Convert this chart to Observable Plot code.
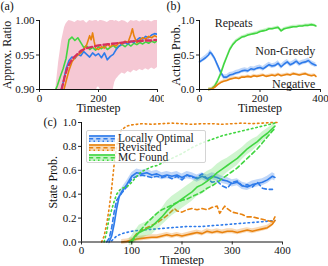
<!DOCTYPE html>
<html><head><meta charset="utf-8">
<script src="https://cdn.jsdelivr.net/npm/d3@7"></script>
<script src="https://cdn.jsdelivr.net/npm/@observablehq/plot@0.6"></script>
<style>
body{margin:0;background:#fff;}
#wrap{position:relative;width:328px;height:266px;overflow:hidden;font-family:"Liberation Serif",serif;background:#fff;}
.panel{position:absolute;}
#legend{position:absolute;left:86px;top:130px;width:118px;height:31px;background:rgba(255,255,255,0.8);border:1px solid #d4d4d4;border-radius:2px;font-size:11.5px;color:#222;}
.row{position:absolute;left:0;height:9px;line-height:9px;white-space:nowrap;}
.row svg{position:absolute;left:2px;top:0;}
.row span{position:absolute;left:31px;top:0;}
</style></head><body><div id="wrap"></div>
<script>
// ---------- colours ----------
const BLUE = "#2e7bea", ORANGE = "#e8820e", GREEN = "#41d641", RED = "#d62f5e", PINK = "#f5c8d4";

// ---------- panel (a) ----------
const aXTicks = [0, 200, 400];
const aYTicks = [0.90, 0.95, 1.00];
const aBandT  = [50,55,60,65,70,75,80,85,90,95,100,110,120,130,140,150,160,170,180,190,195,200,205,210,220,230,240,250,255,260,270,280,290,300,310,320,330,340,350,360,370,380,390,400];
const aBandHi = [0.89,0.90,0.92,0.94,0.955,0.97,0.98,0.99,0.995,0.998,1.0,0.999,0.997,1.0,0.999,1.0,0.996,1.0,0.999,1.0,1.0,0.998,1.0,1.0,0.999,0.997,1.0,1.0,0.999,1.0,0.998,1.0,0.999,0.996,1.0,0.999,1.0,0.998,1.0,0.999,1.0,0.998,1.0,1.0];
const aBandLo = [0.88,0.88,0.88,0.88,0.88,0.88,0.88,0.88,0.88,0.88,0.88,0.88,0.88,0.88,0.88,0.88,0.88,0.88,0.88,0.885,0.902,0.904,0.901,0.885,0.88,0.88,0.88,0.90,0.91,0.915,0.92,0.924,0.922,0.926,0.924,0.928,0.926,0.929,0.927,0.93,0.928,0.931,0.929,0.932];
const aGreenT = [50,60,70,80,90,100,110,120,130,140,150,160,170,180,190,200,210,220,230,240,250,260,270,280,290,300,310,320,330,340,350,360,370,380,390,400];
const aGreen  = [0.895,0.905,0.918,0.93,0.945,0.972,0.976,0.971,0.975,0.968,0.961,0.963,0.958,0.961,0.957,0.962,0.959,0.963,0.958,0.961,0.964,0.96,0.963,0.965,0.962,0.966,0.963,0.967,0.965,0.968,0.966,0.969,0.967,0.970,0.968,0.971];
const aBlueT  = [70,80,90,100,110,120,130,140,150,160,170,180,190,200,210,220,230,240,250,260,270,280,290,300,310,320,330,340,350,360,370,380,390,400];
const aBlue   = [0.895,0.91,0.93,0.942,0.947,0.945,0.951,0.949,0.955,0.951,0.947,0.953,0.949,0.952,0.946,0.953,0.943,0.948,0.951,0.958,0.963,0.966,0.968,0.966,0.970,0.968,0.972,0.975,0.973,0.977,0.975,0.979,0.981,0.98];
const aOrangeT = [80,90,100,110,120,130,140,150,160,170,175,180,185,190,200,210,220,230,240,250,260,270,280,290,300,310,315,320,330,340,350,360,370,380,390,400];
const aOrange  = [0.895,0.912,0.928,0.94,0.946,0.95,0.953,0.958,0.965,0.978,0.972,0.982,0.97,0.96,0.958,0.962,0.96,0.966,0.962,0.965,0.963,0.968,0.966,0.97,0.968,0.98,0.988,0.978,0.968,0.972,0.975,0.973,0.977,0.975,0.978,0.976];
const aRedT = [75,85,95,105,115,125,140,160,180,200,220,240,260,280,300,320,340,360,380,400];
const aRed  = [0.9,0.918,0.932,0.94,0.946,0.95,0.956,0.96,0.962,0.964,0.965,0.966,0.967,0.968,0.969,0.970,0.970,0.971,0.971,0.972];

// ---------- panel (b) ----------
const bXTicks = [0, 200, 400];
const bYTicks = [0, 0.5, 1.0];
const bBlueT = [0,10,20,30,35,40,50,60,70,80,90,100,110,120,130,140,150,160,170,180,190,200,210,220,230,240,250,260,270,280,290,300,310,320,330,340,350,360,370,380,385];
const bBlue  = [0.40,0.43,0.46,0.50,0.54,0.52,0.45,0.35,0.25,0.18,0.18,0.21,0.22,0.24,0.25,0.27,0.28,0.27,0.30,0.29,0.31,0.32,0.30,0.33,0.36,0.34,0.35,0.38,0.33,0.37,0.40,0.36,0.38,0.41,0.37,0.39,0.40,0.42,0.38,0.36,0.35];
const bGOT = [30,40,50,60,70,80,90,100,110,120,130,140,150,160,170,180,190,200,210,220,230,240,250,260,270,280,290,300,310,320,330,340,350,360,370,380,385];
const bGreen  = [0,0.01,0.05,0.13,0.23,0.36,0.47,0.58,0.65,0.70,0.73,0.76,0.77,0.79,0.80,0.81,0.82,0.84,0.85,0.86,0.88,0.88,0.89,0.90,0.85,0.88,0.89,0.90,0.91,0.91,0.92,0.92,0.93,0.93,0.94,0.93,0.92];
const bOrange = [0,0.005,0.03,0.07,0.10,0.12,0.13,0.15,0.16,0.17,0.16,0.18,0.18,0.19,0.18,0.20,0.19,0.20,0.21,0.19,0.20,0.21,0.20,0.22,0.20,0.21,0.22,0.21,0.23,0.22,0.21,0.22,0.23,0.21,0.20,0.21,0.19];
const bBandBlue = 0.035, bBandGreen = 0.02, bBandOrange = 0.02;
const bLabels  = ["Repeats", "Non-Greedy", "Negative"];
const bLabelT  = [50, 383, 383];
const bLabelV  = [0.96, 0.555, 0.08];

// ---------- panel (c) ----------
const cXTicks = [0, 100, 200, 300, 400];
const cYTicks = [0, 0.2, 0.4, 0.6, 0.8, 1.0];
const cBlueSolidT = [55,60,65,70,75,80,90,100,110,120,130,140,150,160,170,180,190,200,210,220,230,240,250,260,270,280,290,300,310,320,330,340,350,360,370,380,385];
const cBlueSolid  = [0,0.05,0.15,0.28,0.38,0.42,0.48,0.55,0.58,0.57,0.58,0.56,0.57,0.55,0.56,0.55,0.56,0.54,0.56,0.55,0.53,0.55,0.53,0.55,0.54,0.52,0.51,0.49,0.50,0.47,0.46,0.48,0.49,0.50,0.52,0.55,0.54];
const cBlueDashT = [50,55,60,65,70,80,90,100,110,120,130,140,150,160,170,180,190,200,210,220,230,240,250,260,270,280,290,300,310,320,330,340,350,360,370,380];
const cBlueDash  = [0,0.03,0.12,0.25,0.35,0.41,0.46,0.53,0.55,0.56,0.55,0.54,0.55,0.54,0.55,0.53,0.55,0.52,0.56,0.54,0.54,0.57,0.53,0.50,0.51,0.47,0.45,0.50,0.51,0.47,0.48,0.46,0.50,0.45,0.44,0.44];
const cBlueDotT = [60,70,80,90,100,120,150,180,210,240,270,300,330,360,385];
const cBlueDot  = [0.01,0.05,0.07,0.08,0.09,0.10,0.11,0.12,0.13,0.13,0.14,0.15,0.16,0.17,0.18];
const cOrangeSolidT = [80,90,100,110,120,130,140,150,160,170,180,190,200,210,220,230,240,250,260,270,280,290,300,310,320,330,340,350,360,370,380,385];
const cOrangeSolid  = [0,0.005,0.015,0.025,0.03,0.035,0.04,0.04,0.05,0.06,0.05,0.06,0.05,0.06,0.07,0.08,0.07,0.09,0.08,0.09,0.08,0.09,0.09,0.08,0.09,0.10,0.09,0.10,0.11,0.12,0.15,0.18];
const cOrangeDashT = [95,100,110,120,130,140,150,160,170,180,185,190,200,210,220,230,240,250,260,270,275,285,290,300,310,320,330,340,350,360,370,380,385];
const cOrangeDash  = [0,0.02,0.07,0.10,0.12,0.14,0.16,0.19,0.22,0.26,0.28,0.26,0.25,0.27,0.28,0.27,0.28,0.27,0.29,0.30,0.24,0.30,0.28,0.25,0.24,0.23,0.21,0.21,0.20,0.19,0.18,0.17,0.21];
const cOrangeDotT = [40,45,50,55,60,65,70,75,80,90,100,120,140,160,180,200,220,240,260,280,300,320,340,360,380,390];
const cOrangeDot  = [0,0.05,0.15,0.28,0.45,0.65,0.8,0.9,0.94,0.97,0.98,0.99,0.985,0.99,0.995,0.99,0.985,0.99,0.99,0.985,0.99,0.995,0.99,0.995,1.0,1.0];
const cGreenSolidT = [95,100,105,110,115,120,130,140,150,160,170,180,190,200,210,220,230,240,250,260,270,280,290,300,310,320,330,340,350,360,370,380,385];
const cGreenSolid  = [0,0.01,0.04,0.06,0.08,0.09,0.11,0.13,0.17,0.21,0.26,0.30,0.33,0.36,0.39,0.42,0.46,0.48,0.51,0.54,0.58,0.61,0.64,0.67,0.70,0.74,0.78,0.81,0.84,0.88,0.91,0.95,0.97];
const cGreenBandHW = [0.03,0.04,0.05,0.05,0.06,0.06,0.06,0.07,0.07,0.07,0.08,0.08,0.08,0.08,0.08,0.08,0.08,0.08,0.08,0.07,0.07,0.07,0.06,0.06,0.06,0.05,0.05,0.05,0.04,0.04,0.04,0.03,0.03];
const cGreenDashT = [100,105,110,120,130,140,150,160,170,180,190,200,210,220,230,240,250,260,270,280,290,300,310,320,330,340,350,360,370,380,385];
const cGreenDash  = [0,0.03,0.06,0.11,0.16,0.2,0.24,0.27,0.29,0.31,0.33,0.35,0.36,0.38,0.40,0.42,0.45,0.47,0.50,0.53,0.56,0.59,0.62,0.66,0.70,0.74,0.78,0.83,0.88,0.93,0.95];
const cGreenDotT = [45,50,55,60,65,70,75,80,90,100,110,120,130,140,150,160,180,200,220,240,260,280,300,320,340,360,380,390];
const cGreenDot  = [0,0.08,0.2,0.27,0.34,0.4,0.43,0.45,0.46,0.5,0.55,0.59,0.61,0.63,0.64,0.66,0.7,0.74,0.79,0.83,0.86,0.89,0.91,0.93,0.95,0.97,0.99,1.0];
const cBandBlue = 0.03, cBandOrange = 0.02;
const legendNames = ["Locally Optimal", "Revisited", "MC Found"];
const legendColors = [BLUE, ORANGE, GREEN];

// ---------- helpers ----------
const zip = (T, V, hw) => T.map((t, i) => {
  const w = Array.isArray(hw) ? hw[i] : (hw || 0);
  return {t, v: V[i], lo: V[i] - w, hi: V[i] + w};
});
const FONT = "'Liberation Serif', 'Times New Roman', serif";
const baseStyle = {fontFamily: FONT, fontSize: "11px", color: "#111", background: "transparent"};
const LBL = 12;
const DASH = "4.2,3", DOT = "1.5,3";

function frameMarks(xTicks, yTicks, yFmt, y0, opts) {
  return [
    Plot.axisX({ticks: xTicks, tickSize: 3, tickPadding: 1.5, tickFormat: d => String(d), label: null, strokeWidth: 0.9}),
    Plot.axisY({ticks: yTicks, tickSize: 3, tickPadding: 2, tickFormat: d3.format(yFmt), label: null, strokeWidth: 0.9}),
    Plot.ruleX([0], {stroke: "#111", strokeWidth: 1}),
    Plot.ruleY([y0], {stroke: "#111", strokeWidth: 1}),
    Plot.text(["Timestep"], {frameAnchor: "bottom", textAnchor: "middle", lineAnchor: "middle", dy: opts.xlabDy, fontSize: LBL}),
    Plot.text([opts.ylab], {frameAnchor: "left", textAnchor: "middle", lineAnchor: "middle", rotate: -90, dx: opts.ylabDx, fontSize: LBL}),
    Plot.text([opts.tag], {frameAnchor: "top-left", textAnchor: "start", lineAnchor: "middle", dx: opts.tagDx, dy: opts.tagDy, fontSize: LBL})
  ];
}

const wrap = document.getElementById("wrap");
function place(svg, left, top) {
  svg.classList.add("panel");
  svg.style.left = left + "px";
  svg.style.top = top + "px";
  wrap.appendChild(svg);
}

// ---------- plot (a) ----------
const plotA = Plot.plot({
  width: 164, height: 115, marginLeft: 39, marginRight: 7, marginTop: 20, marginBottom: 26,
  style: baseStyle,
  x: {domain: [0, 400], label: null},
  y: {domain: [0.9, 1.0], label: null},
  marks: [
    Plot.areaY(aBandT.map((t, i) => ({t, lo: aBandLo[i], hi: aBandHi[i]})), {x: "t", y1: "lo", y2: "hi", fill: PINK, clip: true}),
    Plot.line(zip(aGreenT, aGreen), {x: "t", y: "v", stroke: GREEN, strokeWidth: 1.6, clip: true}),
    Plot.line(zip(aBlueT, aBlue), {x: "t", y: "v", stroke: BLUE, strokeWidth: 1.6, clip: true}),
    Plot.line(zip(aOrangeT, aOrange), {x: "t", y: "v", stroke: ORANGE, strokeWidth: 1.6, clip: true}),
    Plot.line(zip(aRedT, aRed), {x: "t", y: "v", stroke: RED, strokeWidth: 2.3, strokeDasharray: "5.5,3", clip: true}),
    ...frameMarks(aXTicks, aYTicks, ".2f", 0.9, {xlabDy: 18.5, ylab: "Approx. Ratio", ylabDx: -32, tag: "(a)", tagDx: -39, tagDy: -14})
  ]
});
place(plotA, 0, 0);

// ---------- plot (b) ----------
const plotB = Plot.plot({
  width: 164, height: 115, marginLeft: 35, marginRight: 8, marginTop: 20, marginBottom: 26,
  style: baseStyle,
  x: {domain: [0, 400], label: null},
  y: {domain: [0, 1], label: null},
  marks: [
    Plot.areaY(zip(bBlueT, bBlue, bBandBlue), {x: "t", y1: "lo", y2: "hi", fill: BLUE, fillOpacity: 0.3}),
    Plot.line(zip(bBlueT, bBlue), {x: "t", y: "v", stroke: BLUE, strokeWidth: 1.6}),
    Plot.areaY(zip(bGOT, bGreen, bBandGreen), {x: "t", y1: "lo", y2: "hi", fill: GREEN, fillOpacity: 0.3}),
    Plot.line(zip(bGOT, bGreen), {x: "t", y: "v", stroke: GREEN, strokeWidth: 1.6}),
    Plot.areaY(zip(bGOT, bOrange, bBandOrange), {x: "t", y1: "lo", y2: "hi", fill: ORANGE, fillOpacity: 0.3}),
    Plot.line(zip(bGOT, bOrange), {x: "t", y: "v", stroke: ORANGE, strokeWidth: 1.6}),
    Plot.text([0], {x: () => bLabelT[0], y: () => bLabelV[0], text: () => bLabels[0], textAnchor: "start", lineAnchor: "middle", fontSize: LBL, fill: "#222"}),
    Plot.text([1, 2], {x: i => bLabelT[i], y: i => bLabelV[i], text: i => bLabels[i], textAnchor: "end", lineAnchor: "middle", fontSize: LBL, fill: "#222"}),
    ...frameMarks(bXTicks, bYTicks, ".1f", 0, {xlabDy: 18.5, ylab: "Action Prob.", ylabDx: -23, tag: "(b)", tagDx: -33, tagDy: -14})
  ]
});
place(plotB, 164, 0);

// ---------- plot (c) ----------
const plotC = Plot.plot({
  width: 328, height: 151, marginLeft: 81, marginRight: 46, marginTop: 7, marginBottom: 24.5,
  style: baseStyle,
  x: {domain: [0, 400], label: null},
  y: {domain: [0, 1], label: null},
  marks: [
    Plot.areaY(zip(cBlueSolidT, cBlueSolid, cBandBlue), {x: "t", y1: "lo", y2: "hi", fill: BLUE, fillOpacity: 0.3}),
    Plot.line(zip(cBlueSolidT, cBlueSolid), {x: "t", y: "v", stroke: BLUE, strokeWidth: 1.6}),
    Plot.line(zip(cBlueDashT, cBlueDash), {x: "t", y: "v", stroke: BLUE, strokeWidth: 1.6, strokeDasharray: DASH}),
    Plot.line(zip(cBlueDotT, cBlueDot), {x: "t", y: "v", stroke: BLUE, strokeWidth: 1.6, strokeDasharray: DOT}),
    Plot.areaY(zip(cOrangeSolidT, cOrangeSolid, cBandOrange), {x: "t", y1: "lo", y2: "hi", fill: ORANGE, fillOpacity: 0.3}),
    Plot.line(zip(cOrangeSolidT, cOrangeSolid), {x: "t", y: "v", stroke: ORANGE, strokeWidth: 1.6}),
    Plot.line(zip(cOrangeDashT, cOrangeDash), {x: "t", y: "v", stroke: ORANGE, strokeWidth: 1.6, strokeDasharray: DASH}),
    Plot.line(zip(cOrangeDotT, cOrangeDot), {x: "t", y: "v", stroke: ORANGE, strokeWidth: 1.6, strokeDasharray: DOT}),
    Plot.areaY(zip(cGreenSolidT, cGreenSolid, cGreenBandHW), {x: "t", y1: "lo", y2: "hi", fill: GREEN, fillOpacity: 0.25}),
    Plot.line(zip(cGreenSolidT, cGreenSolid), {x: "t", y: "v", stroke: GREEN, strokeWidth: 1.6}),
    Plot.line(zip(cGreenDashT, cGreenDash), {x: "t", y: "v", stroke: GREEN, strokeWidth: 1.6, strokeDasharray: DASH}),
    Plot.line(zip(cGreenDotT, cGreenDot), {x: "t", y: "v", stroke: GREEN, strokeWidth: 1.6, strokeDasharray: DOT}),
    ...frameMarks(cXTicks, cYTicks, ".1f", 0, {xlabDy: 18.5, ylab: "State Prob.", ylabDx: -28, tag: "(c)", tagDx: -38, tagDy: 0})
  ]
});
place(plotC, 0, 115);

// ---------- legend (c) ----------
const legend = d3.select(wrap).append("div").attr("id", "legend");
legendNames.forEach((name, i) => {
  const row = legend.append("div").attr("class", "row").style("top", (2.5 + i * 9.8) + "px");
  const s = row.append("svg").attr("width", 27).attr("height", 9);
  const c = legendColors[i];
  s.append("rect").attr("x", 0).attr("y", 1).attr("width", 26).attr("height", 7).attr("fill", c).attr("fill-opacity", 0.3);
  s.append("line").attr("x1", 0).attr("x2", 26).attr("y1", 2).attr("y2", 2).attr("stroke", c).attr("stroke-width", 1.6);
  s.append("line").attr("x1", 0).attr("x2", 26).attr("y1", 4.7).attr("y2", 4.7).attr("stroke", c).attr("stroke-width", 1.6).attr("stroke-dasharray", DASH);
  s.append("line").attr("x1", 0).attr("x2", 26).attr("y1", 7.3).attr("y2", 7.3).attr("stroke", c).attr("stroke-width", 1.6).attr("stroke-dasharray", DOT);
  row.append("span").text(name);
});
</script></body></html>
